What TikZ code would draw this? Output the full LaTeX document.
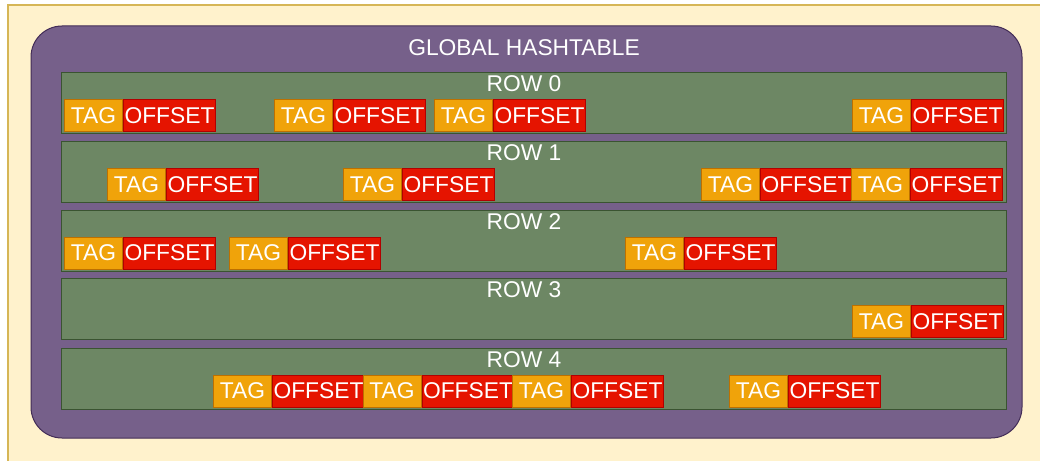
\documentclass[tikz,border=0pt]{standalone}
\usepackage{fontspec}
\setmainfont{Liberation Sans}
\definecolor{paperfill}{HTML}{FFF2CC}
\definecolor{paperline}{HTML}{D6B656}
\definecolor{tablefill}{HTML}{76608A}
\definecolor{tableline}{HTML}{432D57}
\definecolor{rowfill}{HTML}{6D8764}
\definecolor{rowline}{HTML}{3A5431}
\definecolor{tagfill}{HTML}{F0A30A}
\definecolor{tagline}{HTML}{BD7000}
\definecolor{offfill}{HTML}{E51400}
\definecolor{offline}{HTML}{B20000}
\tikzset{
  bigtext/.style={text=white, font=\fontsize{22.8}{27}\selectfont},
  rowbox/.style={draw=rowline, fill=rowfill, line width=1.3pt, anchor=north west,
    minimum width=945pt, minimum height=61pt, inner sep=0pt},
  rowlabel/.style={bigtext, inner sep=0pt},
  tagbox/.style={draw=tagline, fill=tagfill, line width=1pt, bigtext, anchor=north west,
    minimum width=58pt, minimum height=32pt, inner sep=0pt},
  offbox/.style={draw=offline, fill=offfill, line width=1pt, bigtext, anchor=west,
    minimum width=92pt, minimum height=32pt, inner sep=0pt},
}
% one TAG|OFFSET entry: name, left x, row top y
\newcommand\kvpair[3]{%
  \node[tagbox] (#1t) at (#2,#3+27) {TAG};
  \node[offbox] (#1o) at (#1t.east) {OFFSET};
}
\begin{document}
\begin{tikzpicture}[x=1pt,y=-1pt]
\useasboundingbox (0,0) rectangle (1040,460);
\begin{scope}
  \clip (0,0) rectangle (1040,460);
  \draw[paperline, fill=paperfill, line width=1.5pt] (8,5) rectangle (1050,470);
\end{scope}
\draw[tableline, fill=tablefill, line width=1pt, rounded corners=31pt] (31,26) rectangle (1022,438);
\node[bigtext, inner sep=0pt] (title) at (524,48) {GLOBAL HASHTABLE};

% rows
\node[rowbox] (row0) at (61,72) {};
\node[rowbox] (row1) at (61,141) {};
\node[rowbox] (row2) at (61,209.5) {};
\node[rowbox] (row3) at (61,278) {};
\node[rowbox] (row4) at (61,347.5) {};
\node[rowlabel] (lbl0) at (524,84) {ROW 0};
\node[rowlabel] (lbl1) at (524,153) {ROW 1};
\node[rowlabel] (lbl2) at (524,221.5) {ROW 2};
\node[rowlabel] (lbl3) at (524,290) {ROW 3};
\node[rowlabel] (lbl4) at (524,359.5) {ROW 4};

% row 0 entries
\kvpair{a0}{64}{72}
\kvpair{a1}{274}{72}
\kvpair{a2}{434}{72}
\kvpair{a3}{852}{72}
% row 1 entries
\kvpair{b0}{107}{141}
\kvpair{b1}{343}{141}
\kvpair{b2}{701}{141}
\kvpair{b3}{851}{141}
% row 2 entries
\kvpair{c0}{64}{209.5}
\kvpair{c1}{229}{209.5}
\kvpair{c2}{625}{209.5}
% row 3 entries
\kvpair{d0}{852}{278}
% row 4 entries
\kvpair{e0}{213}{347.5}
\kvpair{e1}{362.5}{347.5}
\kvpair{e2}{512}{347.5}
\kvpair{e3}{729}{347.5}
\end{tikzpicture}
\end{document}
